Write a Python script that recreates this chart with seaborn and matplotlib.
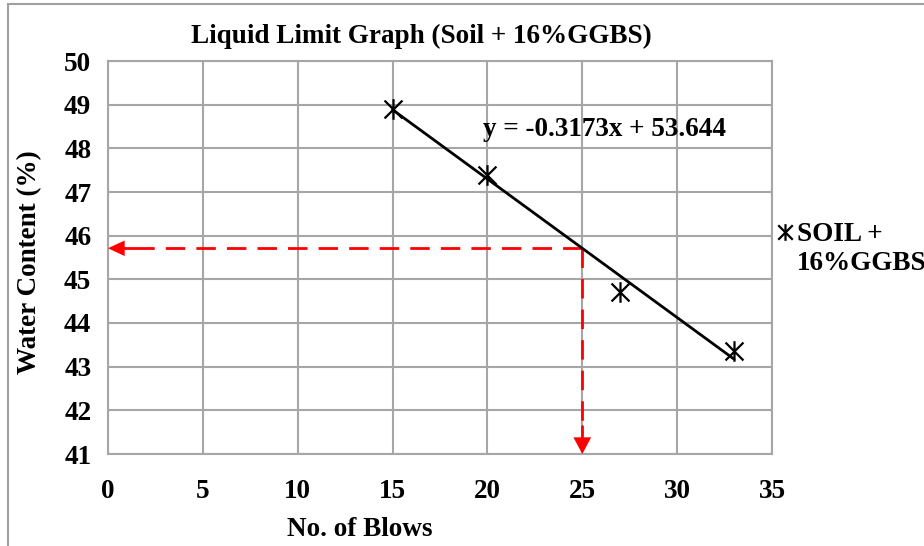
import numpy as np
import pandas as pd
import seaborn as sns
import matplotlib
matplotlib.use("Agg")
import matplotlib.pyplot as plt
from matplotlib.path import Path
from matplotlib.patches import Rectangle

# ---- data ----
blows = [15, 20, 27, 33]
water_content = [48.9, 47.4, 44.7, 43.35]
slope = -0.3173
intercept = 53.644
target_blows = 25
x_ticks = [0, 5, 10, 15, 20, 25, 30, 35]
y_ticks = [41, 42, 43, 44, 45, 46, 47, 48, 49, 50]
series_name = "SOIL +\n16%GGBS"
title = "Liquid Limit Graph (Soil + 16%GGBS)"
equation = "y = -0.3173x + 53.644"

sns.set_theme(style="white")
plt.rcParams['font.family'] = ['Liberation Serif', 'DejaVu Serif']
plt.rcParams['font.weight'] = 'bold'
plt.rcParams['text.color'] = 'black'
plt.rcParams['xtick.color'] = 'black'
plt.rcParams['ytick.color'] = 'black'

FS = 19.5

fig = plt.figure(figsize=(9.24, 5.46), dpi=100)
ax = fig.add_axes([108/924, 1-454/546, (772-108)/924, (454-61)/546])

# outer chart border
fig.patches.append(Rectangle((8/924, -0.1), 1.2, 1 - 4/546 + 0.1, transform=fig.transFigure,
                             fill=False, edgecolor='#A0A0A0', lw=1.5, zorder=0))

df = pd.DataFrame({"blows": blows, "wc": water_content})

# trendline over data range
tx = np.array([min(blows), max(blows)])
trend = pd.DataFrame({"x": tx, "y": slope * tx + intercept})
sns.lineplot(data=trend, x="x", y="y", color='black', lw=2, ax=ax, zorder=4)

star = Path([(-1, -1), (1, 1), (-1, 1), (1, -1), (0, -1.15), (0, 1.15)],
            [Path.MOVETO, Path.LINETO, Path.MOVETO, Path.LINETO, Path.MOVETO, Path.LINETO])
sns.scatterplot(data=df, x="blows", y="wc", marker=star, s=220, color='black',
                edgecolor='black', linewidth=1.6, ax=ax, zorder=5)

# red dashed guide lines
ll = slope * target_blows + intercept
ax.plot([target_blows, 0.9], [ll, ll], color='red', lw=2, ls=(0, (7, 4)), zorder=3, clip_on=False)
ax.plot([0.2, 1.4], [ll, ll], color='red', lw=2, zorder=3)
ax.plot([target_blows, target_blows], [ll, 41.5], color='red', lw=2, ls=(0, (7, 4)), zorder=3, clip_on=False)
ax.plot([target_blows, target_blows], [41.15, 41.65], color='red', lw=2, zorder=3)
ax.annotate("", xy=(0, ll), xytext=(0.9, ll),
            arrowprops=dict(arrowstyle='-|>,head_length=0.6,head_width=0.28', color='red', lw=0,
                            mutation_scale=20, shrinkA=0, shrinkB=0), zorder=3)
ax.annotate("", xy=(target_blows, 41), xytext=(target_blows, 41.45),
            arrowprops=dict(arrowstyle='-|>,head_length=0.6,head_width=0.32', color='red', lw=0,
                            mutation_scale=20, shrinkA=0, shrinkB=0), zorder=3,
            annotation_clip=False)

ax.set_xlim(0, 35)
ax.set_ylim(41, 50)
ax.set_xticks(x_ticks)
ax.set_yticks(y_ticks)
ax.set_xticklabels([str(v) for v in x_ticks], fontsize=FS, fontweight='bold')
ax.set_yticklabels([str(v) for v in y_ticks], fontsize=FS, fontweight='bold')
ax.tick_params(axis='x', length=0, pad=18)
ax.tick_params(axis='y', length=0, pad=12)
ax.grid(True, color='#A6A6A6', lw=1.5)
ax.set_axisbelow(True)
for sp in ax.spines.values():
    sp.set_color('#A6A6A6')
    sp.set_linewidth(1.5)
ax.set_xlabel("")
ax.set_ylabel("")

fig.text(360/924, 1-530/546, "No. of Blows", ha='center', va='center', fontsize=FS, fontweight='bold')
fig.text(30/924, 1-262/546, "Water Content (%)", ha='center', va='center', rotation=90,
         fontsize=FS, fontweight='bold')
fig.text(421/924, 1-36/546, title, ha='center', va='center', fontsize=FS, fontweight='bold')
fig.text(483/924, 1-129/546, equation, ha='left', va='center', fontsize=FS, fontweight='bold')

# legend
fig.lines.append(plt.Line2D([785/924], [1-232/546], marker=star, markersize=12, color='black',
                            mew=1.6, ls='none', transform=fig.transFigure))
fig.text(797/924, 1-249/546, series_name, ha='left', va='center', fontsize=FS, fontweight='bold',
         linespacing=1.2)

fig.savefig("out.png", dpi=100)
